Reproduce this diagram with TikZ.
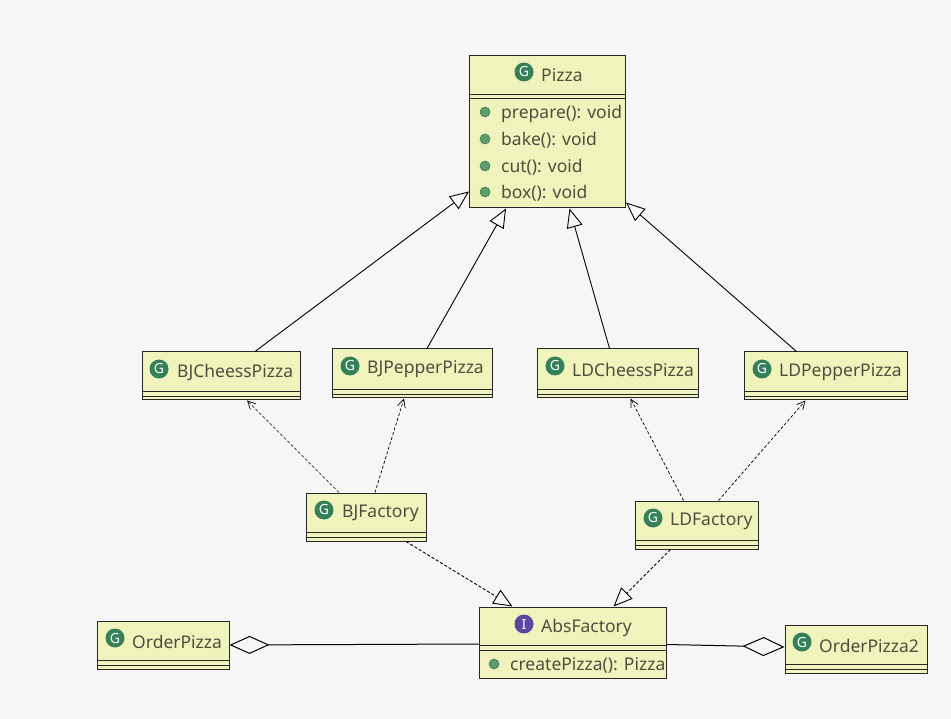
\documentclass[tikz,border=0pt]{standalone}
\usepackage{fontspec}
\setmainfont{Noto Sans}
\usetikzlibrary{%
	arrows.meta%
}
\definecolor{pagegray}{RGB}{246,246,246}
\definecolor{classyellow}{RGB}{241,243,188}
\definecolor{classgreen}{RGB}{52,128,88}
\definecolor{methodgreen}{RGB}{98,156,110}
\definecolor{ifacepurple}{RGB}{88,72,160}
\definecolor{labelgray}{RGB}{78,78,62}

\begin{document}
\begin{tikzpicture}[
        x=1pt,y=-1pt,
        classbox/.style={draw=black!85,fill=classyellow,line width=1pt,inner sep=0pt},
        classrule/.style={black!85,line width=.9pt},
        classtext/.style={font={\fontsize{17.5}{19}\selectfont},text=labelgray,anchor=west,inner sep=0pt},
        classicon/.style={circle,fill=classgreen,text=white,inner sep=0pt,minimum size=19pt,
        	font={\fontsize{14}{14}\selectfont\bfseries}},
        ifaceicon/.style={classicon,fill=ifacepurple},
        methoddot/.style={circle,fill=methodgreen,draw=classgreen,line width=.6pt,inner sep=0pt,minimum size=10pt},
        extends/.style={black,line width=.9pt,-{Triangle[open,fill=pagegray,length=19pt,width=16pt]}},
        realizes/.style={extends,densely dashed},
        uses/.style={black,line width=.7pt,densely dashed,-{Straight Barb[length=8pt,width=8pt]}},
        holds/.style={black,line width=1pt}
    ]

    %page
    \fill[pagegray] (0,0) rectangle (951,719);
    \useasboundingbox (0,0) rectangle (951,719);

    %Draw the classes
    \node[classbox,minimum width=156pt,minimum height=152pt] (pizza) at (547.5,132) {};
    \node[classbox,minimum width=158pt,minimum height=48pt] (bjcheess) at (221,376) {};
    \node[classbox,minimum width=160pt,minimum height=49pt] (bjpepper) at (412,373.5) {};
    \node[classbox,minimum width=161pt,minimum height=49pt] (ldcheess) at (617.5,373.5) {};
    \node[classbox,minimum width=163pt,minimum height=48pt] (ldpepper) at (825.5,376) {};
    \node[classbox,minimum width=120pt,minimum height=48pt] (bjfactory) at (366,517) {};
    \node[classbox,minimum width=123pt,minimum height=48pt] (ldfactory) at (696.5,525) {};
    \node[classbox,minimum width=187pt,minimum height=71pt] (absfactory) at (572.5,642.5) {};
    \node[classbox,minimum width=132pt,minimum height=48pt] (orderpizza) at (163,645) {};
    \node[classbox,minimum width=142pt,minimum height=48pt] (orderpizzatwo) at (856,649) {};

    %empty compartments
    \foreach \cls in {bjcheess,bjpepper,ldcheess,ldpepper,bjfactory,ldfactory,orderpizza,orderpizzatwo}{
    	\draw[classrule] ([yshift=9pt]\cls.south west) -- ([yshift=9pt]\cls.south east);
    	\draw[classrule] ([yshift=4pt]\cls.south west) -- ([yshift=4pt]\cls.south east);
    }
    \draw[classrule] ([yshift=-38.5pt]pizza.north west) -- ([yshift=-38.5pt]pizza.north east);
    \draw[classrule] ([yshift=-42.5pt]pizza.north west) -- ([yshift=-42.5pt]pizza.north east);
    \draw[classrule] ([yshift=-39pt]absfactory.north west) -- ([yshift=-39pt]absfactory.north east);
    \draw[classrule] ([yshift=-43.5pt]absfactory.north west) -- ([yshift=-43.5pt]absfactory.north east);

    %icons and names
    \node[classicon] (pizzaicon) at (524,72) {G};
    \node[classtext] (pizzaname) at (541,75.5) {Pizza};
    \node[classicon] (bjcheessicon) at (159,369) {G};
    \node[classtext] (bjcheessname) at (177,372.5) {BJCheessPizza};
    \node[classicon] (bjeppericon) at (350,366) {G};
    \node[classtext] (bjeppername) at (367,369.5) {BJPepperPizza};
    \node[classicon] (ldcheessicon) at (555,366) {G};
    \node[classtext] (ldcheessname) at (572,369.5) {LDCheessPizza};
    \node[classicon] (ldeppericon) at (762,369) {G};
    \node[classtext] (ldeppername) at (779,372.5) {LDPepperPizza};
    \node[classicon] (bjfactoryicon) at (324,510) {G};
    \node[classtext] (bjfactoryname) at (342,513.5) {BJFactory};
    \node[classicon] (ldfactoryicon) at (653,518) {G};
    \node[classtext] (ldfactoryname) at (670,521.5) {LDFactory};
    \node[ifaceicon] (absfactoryicon) at (524,624) {I};
    \node[classtext] (absfactoryname) at (541,627.5) {AbsFactory};
    \node[classicon] (orderpizzaicon) at (115,638) {G};
    \node[classtext] (orderpizzaname) at (132,641.5) {OrderPizza};
    \node[classicon] (orderpizzatwoicon) at (802,642) {G};
    \node[classtext] (orderpizzatwoname) at (819,645.5) {OrderPizza2};

    %methods
    \node[methoddot] (preparedot) at (485,112) {};
    \node[classtext] (preparename) at (501,113.5) {prepare(): void};
    \node[methoddot] (bakedot) at (485,139) {};
    \node[classtext] (bakename) at (501,140) {bake(): void};
    \node[methoddot] (cutdot) at (485,166) {};
    \node[classtext] (cutname) at (501,167) {cut(): void};
    \node[methoddot] (boxdot) at (485,192) {};
    \node[classtext] (boxname) at (501,193) {box(): void};
    \node[methoddot] (createdot) at (494,664) {};
    \node[classtext] (createname) at (510,665) {createPizza(): Pizza};

    %inheritance
    \draw[extends] ([xshift=34pt]bjcheess.north) -- ([yshift=17pt]pizza.south west);
    \draw[extends] ([xshift=15pt]bjpepper.north) -- ([xshift=37pt]pizza.south west);
    \draw[extends] ([xshift=-8pt]ldcheess.north) -- ([xshift=22pt]pizza.south);
    \draw[extends] ([xshift=-29pt]ldpepper.north) -- ([yshift=6pt]pizza.south east);

    %factories create the pizzas
    \draw[uses] ([xshift=-27pt]bjfactory.north) -- ([xshift=26pt]bjcheess.south);
    \draw[uses] ([xshift=9pt]bjfactory.north) -- ([xshift=-8pt]bjpepper.south);
    \draw[uses] ([xshift=-13pt]ldfactory.north) -- ([xshift=13pt]ldcheess.south);
    \draw[uses] ([xshift=22pt]ldfactory.north) -- ([xshift=-20pt]ldpepper.south);

    %factories implement the interface
    \draw[realizes] ([xshift=40pt]bjfactory.south) -- ([xshift=-60pt]absfactory.north);
    \draw[realizes] ([xshift=-26pt]ldfactory.south) -- ([xshift=41pt]absfactory.north);

    %aggregation
    \draw[holds,{Diamond[open,length=40pt,width=18pt]}-] (orderpizza.east) -- ([yshift=-1.5pt]absfactory.west);
    \draw[holds,-{Diamond[open,length=42pt,width=19pt]}] ([yshift=-2pt]absfactory.east) -- ([yshift=2pt]orderpizzatwo.west);
\end{tikzpicture}
\end{document}
